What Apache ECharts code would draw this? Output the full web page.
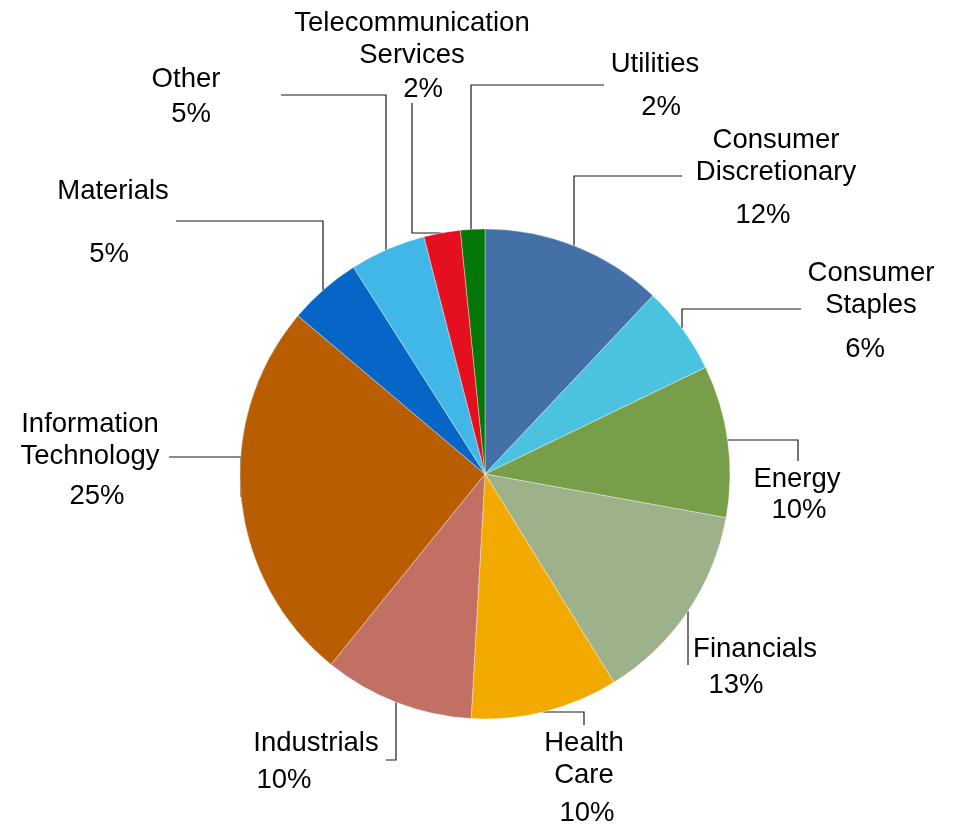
<!DOCTYPE html>
<html>
<head>
<meta charset="utf-8">
<script src="https://cdn.jsdelivr.net/npm/echarts@6/dist/echarts.min.js"></script>
<style>
html,body{margin:0;padding:0;background:#fff;}
#chart{width:957px;height:825px;}
</style>
</head>
<body>
<div id="chart"></div>
<script>
// ---- data ----
const categories = [
  'Consumer\nDiscretionary', 'Consumer\nStaples', 'Energy', 'Financials',
  'Health\nCare', 'Industrials', 'Information\nTechnology', 'Materials',
  'Other', 'Telecommunication\nServices', 'Utilities'
];
const values = [12.0, 5.8, 10.0, 13.3, 9.7, 9.9, 25.3, 4.8, 5.0, 2.4, 1.6];
const colors = ['#4470A8', '#4BC2DF', '#789E4A', '#9DB18A', '#F2AA00', '#C27063',
                '#B85D02', '#0666C8', '#41B7E7', '#E5101F', '#057708'];

// ---- layout (label placement & leader-line elbows) ----
const CX = 485, CY = 474, R = 245;
// cx: label centre x, cap: first-line centre y, gap: baseline gap to percent, shift: percent x shift
const labelLayouts = [
  {cx: 776, cap: 138, gap: 43, shift: -13, line: {type: 'v', at: 574, side: -1, elbow: [574, 176], end: [682, 176]}},
  {cx: 871, cap: 271, gap: 44, shift: -6,  line: {type: 'v', at: 682, side: -1, elbow: [682, 309], end: [801, 309]}},
  {cx: 797, cap: 477, gap: 31, shift: 2,   line: {type: 'h', at: 440, side: 1, elbow: [798, 440], end: [798, 461]}},
  {cx: 755, cap: 647, gap: 36, shift: -19, line: {type: 'v', at: 688, side: 1, elbow: [688, 665], end: [688, 665]}},
  {cx: 584, cap: 741, gap: 38, shift: 3,   line: {type: 'h', at: 712, side: 1, elbow: [584, 712], end: [584, 725]}},
  {cx: 316, cap: 741, gap: 37, shift: -32, line: {type: 'v', at: 396, side: 1, elbow: [396, 760], end: [386, 760]}},
  {cx: 90,  cap: 422, gap: 40, shift: 7,   line: {type: 'h', at: 497, side: -1, elbow: [241, 457], end: [169, 457]}},
  {cx: 113, cap: 189, gap: 63, shift: -4,  line: {type: 'v', at: 323, side: -1, elbow: [323, 221], end: [176, 221]}},
  {cx: 186, cap: 77,  gap: 35, shift: 5,   line: {type: 'v', at: 386, side: -1, elbow: [386, 95], end: [281, 95]}},
  {cx: 412, cap: 21,  gap: 34, shift: 11,  line: {type: 'h', at: 233, side: -1, elbow: [412, 233], end: [412, 103]}},
  {cx: 655, cap: 62,  gap: 43, shift: 6,   line: {type: 'v', at: 471, side: -1, elbow: [471, 85], end: [604, 85]}}
];

const FONT = 27.5, LH = 32, YOFF = 2;

function arcPoint(l) {
  if (l.type === 'v') {
    const dx = l.at - CX;
    return [l.at, CY + l.side * Math.sqrt(R * R - dx * dx)];
  } else {
    const dy = l.at - CY;
    return [CX + l.side * Math.sqrt(R * R - dy * dy), l.at];
  }
}

const rich = { n: {fontSize: FONT, lineHeight: LH, fontFamily: 'Liberation Sans, Arial, sans-serif', color: '#000'} };
labelLayouts.forEach((o, i) => {
  const s = o.shift;
  rich['p' + i] = {
    fontSize: FONT, fontFamily: 'Liberation Sans, Arial, sans-serif', color: '#000',
    lineHeight: 2 * (o.gap - LH / 2),
    padding: s >= 0 ? [0, 0, 0, 2 * s] : [0, -2 * s, 0, 0]
  };
});

const data = categories.map((c, i) => ({name: c, value: values[i], itemStyle: {color: colors[i]}}));

const chart = echarts.init(document.getElementById('chart'), null, {renderer: 'canvas'});
chart.setOption({
  backgroundColor: '#fff',
  animation: false,
  series: [{
    type: 'pie',
    center: [CX, CY],
    radius: R,
    startAngle: 90,
    clockwise: true,
    avoidLabelOverlap: false,
    data: data,
    itemStyle: {borderColor: 'rgba(255,255,255,0.6)', borderWidth: 0.6},
    label: {
      show: true,
      position: 'outside',
      align: 'center',
      formatter: p => p.name.split('\n').map(s => '{n|' + s + '}').join('\n') +
                      '\n{p' + p.dataIndex + '|' + Math.round(p.percent) + '%}',
      rich: rich
    },
    labelLine: {show: true, smooth: false, lineStyle: {color: '#1a1a1a', width: 1.2}},
    labelLayout: function (params) {
      const o = labelLayouts[params.dataIndex];
      const start = arcPoint(o.line);
      return {
        x: o.cx,
        y: o.cap - LH / 2 + YOFF,
        align: 'center',
        verticalAlign: 'top',
        labelLinePoints: [start, o.line.elbow, o.line.end]
      };
    }
  }]
});
</script>
</body>
</html>
